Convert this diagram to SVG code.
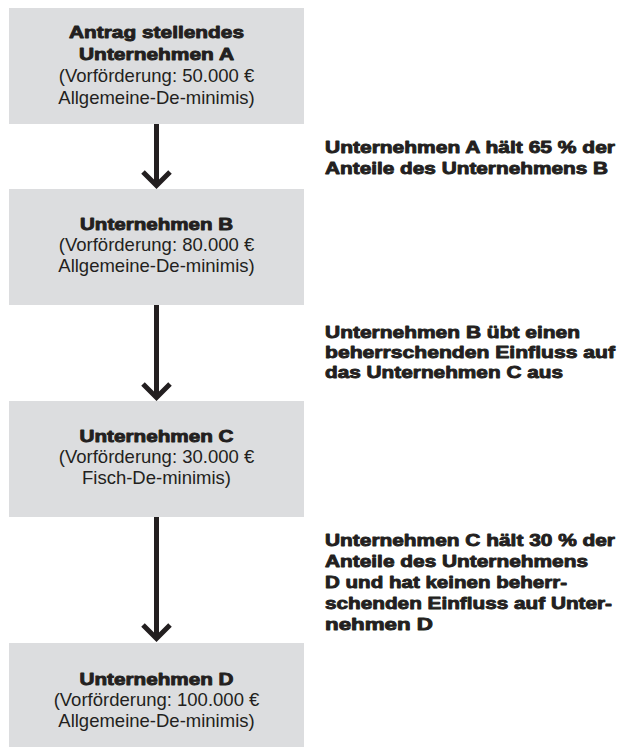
<svg xmlns="http://www.w3.org/2000/svg" width="618" height="756" viewBox="0 0 618 756">
  <style>
    .box { fill: #dcdddf; }
    .t { font-family: "Liberation Sans", Arial, sans-serif; fill: #231f20; }
    .b { font-size: 17px; font-weight: bold; stroke: #231f20; stroke-width: 0.9; stroke-linejoin: round; }
    .r { font-size: 18.5px; }
    .c { text-anchor: middle; }
    .ln { stroke: #231f20; stroke-width: 5; fill: none; }
    .hd { stroke: #231f20; stroke-width: 5; fill: none; stroke-linejoin: miter; stroke-linecap: butt; }
  </style>
  <rect width="618" height="756" fill="#ffffff"/>

  <g id="connectors">
    <line class="ln" x1="156.5" y1="124" x2="156.5" y2="186"/>
    <polyline class="hd" points="143,172 156.5,185.5 170,172"/>
    <line class="ln" x1="156.5" y1="305" x2="156.5" y2="398"/>
    <polyline class="hd" points="143,384 156.5,397.5 170,384"/>
    <line class="ln" x1="156.5" y1="517" x2="156.5" y2="639"/>
    <polyline class="hd" points="143,625 156.5,638.5 170,625"/>
  </g>

  <g id="nodeA">
    <rect class="box" x="9" y="8" width="295" height="116"/>
    <text class="t b c" x="156.5" y="38" textLength="175" lengthAdjust="spacingAndGlyphs">Antrag stellendes</text>
    <text class="t b c" x="156.5" y="60" textLength="155" lengthAdjust="spacingAndGlyphs">Unternehmen A</text>
    <text class="t r c" x="156.5" y="82">(Vorförderung: 50.000 €</text>
    <text class="t r c" x="156.5" y="104">Allgemeine-De-minimis)</text>
  </g>

  <g id="nodeB">
    <rect class="box" x="9" y="189" width="295" height="116"/>
    <text class="t b c" x="156.5" y="230" textLength="153" lengthAdjust="spacingAndGlyphs">Unternehmen B</text>
    <text class="t r c" x="156.5" y="251">(Vorförderung: 80.000 €</text>
    <text class="t r c" x="156.5" y="272">Allgemeine-De-minimis)</text>
  </g>

  <g id="nodeC">
    <rect class="box" x="9" y="401" width="295" height="116"/>
    <text class="t b c" x="156.5" y="442" textLength="154" lengthAdjust="spacingAndGlyphs">Unternehmen C</text>
    <text class="t r c" x="156.5" y="463">(Vorförderung: 30.000 €</text>
    <text class="t r c" x="156.5" y="484">Fisch-De-minimis)</text>
  </g>

  <g id="nodeD">
    <rect class="box" x="9" y="643" width="295" height="104"/>
    <text class="t b c" x="156.5" y="685" textLength="154" lengthAdjust="spacingAndGlyphs">Unternehmen D</text>
    <text class="t r c" x="156.5" y="706">(Vorförderung: 100.000 €</text>
    <text class="t r c" x="156.5" y="727">Allgemeine-De-minimis)</text>
  </g>

  <g id="labelAB">
    <text class="t b" x="325" y="153" textLength="290" lengthAdjust="spacingAndGlyphs">Unternehmen A hält 65 % der</text>
    <text class="t b" x="325" y="174" textLength="283" lengthAdjust="spacingAndGlyphs">Anteile des Unternehmens B</text>
  </g>

  <g id="labelBC">
    <text class="t b" x="325" y="338" textLength="255" lengthAdjust="spacingAndGlyphs">Unternehmen B übt einen</text>
    <text class="t b" x="325" y="358" textLength="290" lengthAdjust="spacingAndGlyphs">beherrschenden Einfluss auf</text>
    <text class="t b" x="325" y="378" textLength="238" lengthAdjust="spacingAndGlyphs">das Unternehmen C aus</text>
  </g>

  <g id="labelCD">
    <text class="t b" x="325" y="546" textLength="290" lengthAdjust="spacingAndGlyphs">Unternehmen C hält 30 % der</text>
    <text class="t b" x="325" y="567" textLength="263" lengthAdjust="spacingAndGlyphs">Anteile des Unternehmens</text>
    <text class="t b" x="325" y="588" textLength="242" lengthAdjust="spacingAndGlyphs">D und hat keinen beherr-</text>
    <text class="t b" x="325" y="609" textLength="287" lengthAdjust="spacingAndGlyphs">schenden Einfluss auf Unter-</text>
    <text class="t b" x="325" y="630" textLength="108" lengthAdjust="spacingAndGlyphs">nehmen D</text>
  </g>
</svg>
